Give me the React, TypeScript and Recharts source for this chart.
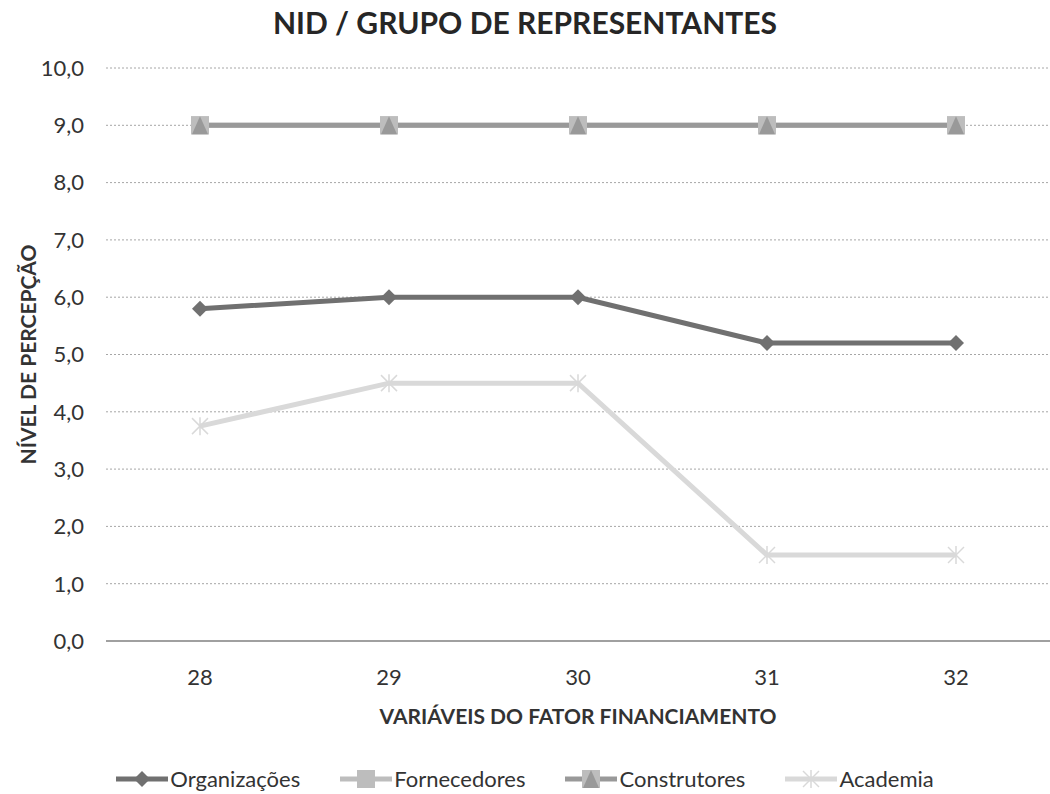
import { CartesianGrid, Label, Line, LineChart, XAxis, YAxis } from "recharts";

const variaveis = ["28", "29", "30", "31", "32"];
const organizacoes = [5.8, 6.0, 6.0, 5.2, 5.2];
const fornecedores = [9.0, 9.0, 9.0, 9.0, 9.0];
const construtores = [9.0, 9.0, 9.0, 9.0, 9.0];
const academia = [3.75, 4.5, 4.5, 1.5, 1.5];
const yTicks = [0, 1, 2, 3, 4, 5, 6, 7, 8, 9, 10];

const FONT = "Lato, 'Open Sans', sans-serif";
const TEXT = "#333333";

const SERIES = [
  { key: "organizacoes", name: "Organizações", color: "#707070", marker: "diamond" },
  { key: "fornecedores", name: "Fornecedores", color: "#bdbdbd", marker: "square" },
  { key: "construtores", name: "Construtores", color: "#999999", marker: "triangle" },
  { key: "academia", name: "Academia", color: "#d9d9d9", marker: "star" },
];

const data = variaveis.map((v, i) => ({
  variavel: v,
  organizacoes: organizacoes[i],
  fornecedores: fornecedores[i],
  construtores: construtores[i],
  academia: academia[i],
}));

function Marker({ type, cx, cy, color }: { type: string; cx: number; cy: number; color: string }) {
  if (type === "diamond") {
    const r = 8;
    return <polygon points={`${cx},${cy - r} ${cx + r},${cy} ${cx},${cy + r} ${cx - r},${cy}`} fill={color} />;
  }
  if (type === "square") {
    return <rect x={cx - 9} y={cy - 9} width={18} height={18} fill={color} />;
  }
  if (type === "triangle") {
    return (
      <g>
        <rect x={cx - 9} y={cy - 9} width={18} height={18} fill="#bdbdbd" />
        <polygon points={`${cx},${cy - 9} ${cx + 8},${cy + 9} ${cx - 8},${cy + 9}`} fill={color} />
      </g>
    );
  }
  const r = 8;
  return (
    <g stroke={color} strokeWidth={1.5}>
      <line x1={cx - r} y1={cy - r} x2={cx + r} y2={cy + r} />
      <line x1={cx - r} y1={cy + r} x2={cx + r} y2={cy - r} />
      <line x1={cx} y1={cy - r - 1} x2={cx} y2={cy + r + 1} />
    </g>
  );
}

function ChartLegend() {
  return (
    <div
      style={{
        position: "absolute",
        top: 765,
        left: 0,
        width: 1050,
        display: "flex",
        justifyContent: "center",
        gap: 40,
        fontFamily: FONT,
        fontSize: 22,
        color: TEXT,
      }}
    >
      {SERIES.map((s) => (
        <div key={s.key} style={{ display: "flex", alignItems: "center" }}>
          <svg width={52} height={20}>
            <line x1={0} y1={10} x2={52} y2={10} stroke={s.color} strokeWidth={5} />
            <Marker type={s.marker} cx={26} cy={10} color={s.color} />
          </svg>
          <span style={{ marginLeft: 2 }}>{s.name}</span>
        </div>
      ))}
    </div>
  );
}

export default function App() {
  return (
    <div style={{ position: "absolute", left: 0, top: 0, width: 1050, height: 794, background: "#fff" }}>
      <div
        style={{
          position: "absolute",
          top: 4,
          left: 0,
          width: 1050,
          textAlign: "center",
          fontFamily: FONT,
          fontWeight: 700,
          fontSize: 30,
          color: "#262626",
        }}
      >
        NID / GRUPO DE REPRESENTANTES
      </div>
      <LineChart width={1050} height={794} data={data} margin={{ top: 68, right: 0, bottom: 73, left: 0 }}>
        <CartesianGrid vertical={false} stroke="#a6a6a6" strokeDasharray="2 2" horizontalValues={yTicks.slice(1)} />
        <XAxis
          dataKey="variavel"
          padding={{ left: 94, right: 94 }}
          axisLine={{ stroke: "#a0a0a0", strokeWidth: 2 }}
          tickLine={false}
          tickSize={0}
          tickMargin={28}
          tick={{ fontFamily: FONT, fontSize: 22, fill: TEXT }}
          height={80}
        >
          <Label
            content={({ viewBox }: any) => (
              <text
                x={viewBox.x + viewBox.width / 2}
                y={724}
                textAnchor="middle"
                fontFamily={FONT}
                fontWeight={700}
                fontSize={21}
                fill={TEXT}
              >
                VARIÁVEIS DO FATOR FINANCIAMENTO
              </text>
            )}
          />
        </XAxis>
        <YAxis
          domain={[0, 10]}
          ticks={yTicks}
          interval={0}
          width={106}
          axisLine={false}
          tickLine={false}
          tickSize={0}
          tickMargin={22}
          tickFormatter={(v: number) => v.toFixed(1).replace(".", ",")}
          tick={{ fontFamily: FONT, fontSize: 22, fill: TEXT }}
        >
          <Label
            content={({ viewBox }: any) => {
              const cy = viewBox.y + viewBox.height / 2;
              return (
                <text
                  x={36}
                  y={cy}
                  transform={`rotate(-90 36 ${cy})`}
                  textAnchor="middle"
                  fontFamily={FONT}
                  fontWeight={700}
                  fontSize={21}
                  fill={TEXT}
                >
                  NÍVEL DE PERCEPÇÃO
                </text>
              );
            }}
          />
        </YAxis>
        {SERIES.map((s) => (
          <Line
            key={s.key}
            dataKey={s.key}
            name={s.name}
            stroke={s.color}
            strokeWidth={5}
            isAnimationActive={false}
            dot={(p: any) => <Marker key={`${s.key}-${p.index}`} type={s.marker} cx={p.cx} cy={p.cy} color={s.color} />}
            activeDot={false}
          />
        ))}
      </LineChart>
      <ChartLegend />
    </div>
  );
}
